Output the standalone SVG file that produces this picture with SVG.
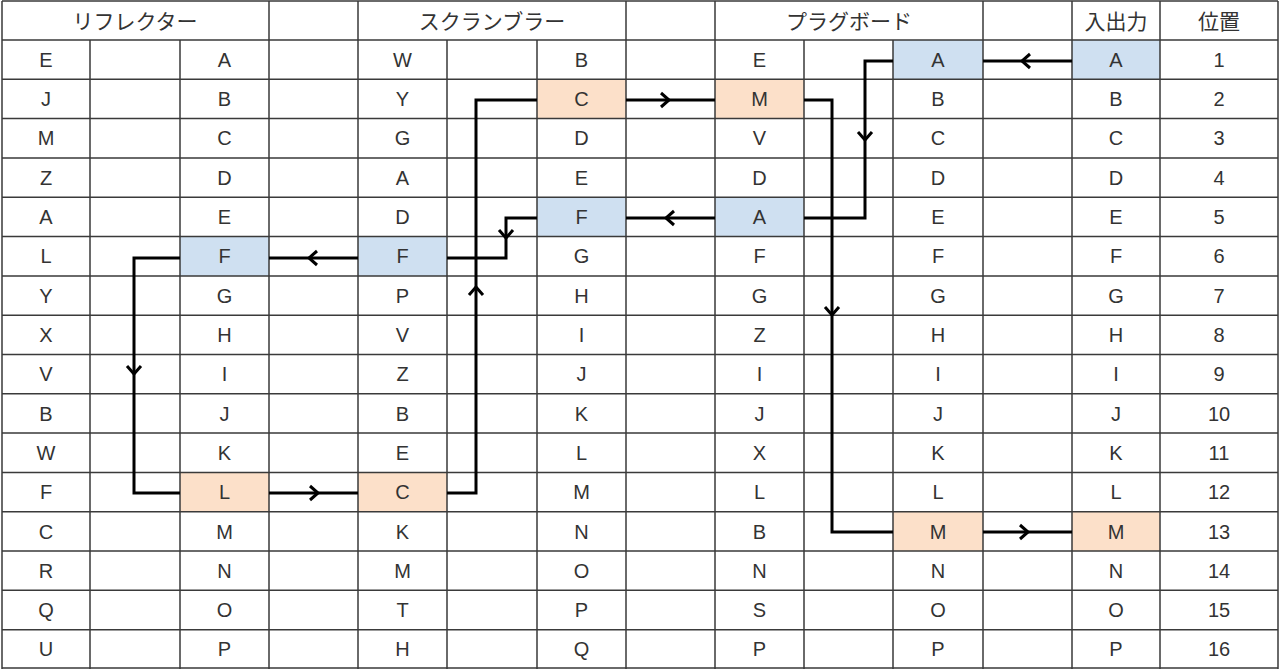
<svg xmlns="http://www.w3.org/2000/svg" width="1280" height="669" viewBox="0 0 1280 669">
<style>
.g{stroke:#3a3a3a;stroke-width:1.5;fill:none}
.t{font-family:"Liberation Sans",Arial,sans-serif;font-size:20px;fill:#333;text-anchor:middle;dominant-baseline:central}
.h{font-family:"Noto Sans CJK JP","Noto Sans",sans-serif;font-size:21px;fill:#333;text-anchor:middle;dominant-baseline:central}
.w{stroke:#000;stroke-width:3;fill:none;stroke-linejoin:miter}
.b{fill:#cfe0f1}.o{fill:#fce0c9}
</style>
<rect width="1280" height="669" fill="#fff"/>
<g id="fills">
<rect class="b" x="1072" y="40" width="88" height="39.3"/>
<rect class="b" x="893" y="40" width="90" height="39.3"/>
<rect class="b" x="715" y="197.2" width="89" height="39.4"/>
<rect class="b" x="537" y="197.2" width="89" height="39.4"/>
<rect class="b" x="358" y="236.6" width="89" height="39.3"/>
<rect class="b" x="180" y="236.6" width="89" height="39.3"/>
<rect class="o" x="537" y="79.3" width="89" height="39.3"/>
<rect class="o" x="715" y="79.3" width="89" height="39.3"/>
<rect class="o" x="358" y="472.4" width="89" height="39.3"/>
<rect class="o" x="180" y="472.4" width="89" height="39.3"/>
<rect class="o" x="893" y="511.7" width="90" height="39.3"/>
<rect class="o" x="1072" y="511.7" width="88" height="39.3"/>
</g>
<g id="grid" class="g">
<path d="M2 1V669M269 1V669M358 1V669M626 1V669M715 1V669M983 1V669M1072 1V669M1160 1V669M1278 1V669"/>
<path d="M90 40V669M180 40V669M447 40V669M537 40V669M804 40V669M893 40V669"/>
<path d="M2 1H1278M2 40H1278M2 79.3H1278M2 118.6H1278M2 157.9H1278M2 197.2H1278M2 236.6H1278M2 275.9H1278M2 315.2H1278M2 354.5H1278M2 393.8H1278M2 433.1H1278M2 472.4H1278M2 511.7H1278M2 551H1278M2 590.3H1278M2 629.7H1278M2 668H1278"/>
</g>
<g id="headers">
<text class="h" x="135" y="20">リフレクター</text>
<text class="h" x="492" y="20">スクランブラー</text>
<text class="h" x="849" y="20">プラグボード</text>
<text class="h" x="1116" y="20">入出力</text>
<text class="h" x="1219" y="20">位置</text>
</g>
<g id="cells" class="t">
<text class="t"><tspan x="46" y="59.7">E</tspan><tspan x="46" y="99">J</tspan><tspan x="46" y="138.3">M</tspan><tspan x="46" y="177.6">Z</tspan><tspan x="46" y="216.9">A</tspan><tspan x="46" y="256.3">L</tspan><tspan x="46" y="295.6">Y</tspan><tspan x="46" y="334.9">X</tspan><tspan x="46" y="374.2">V</tspan><tspan x="46" y="413.5">B</tspan><tspan x="46" y="452.8">W</tspan><tspan x="46" y="492.1">F</tspan><tspan x="46" y="531.5">C</tspan><tspan x="46" y="570.8">R</tspan><tspan x="46" y="610.1">Q</tspan><tspan x="46" y="649.4">U</tspan></text>
<text class="t"><tspan x="224.5" y="59.7">A</tspan><tspan x="224.5" y="99">B</tspan><tspan x="224.5" y="138.3">C</tspan><tspan x="224.5" y="177.6">D</tspan><tspan x="224.5" y="216.9">E</tspan><tspan x="224.5" y="256.3">F</tspan><tspan x="224.5" y="295.6">G</tspan><tspan x="224.5" y="334.9">H</tspan><tspan x="224.5" y="374.2">I</tspan><tspan x="224.5" y="413.5">J</tspan><tspan x="224.5" y="452.8">K</tspan><tspan x="224.5" y="492.1">L</tspan><tspan x="224.5" y="531.5">M</tspan><tspan x="224.5" y="570.8">N</tspan><tspan x="224.5" y="610.1">O</tspan><tspan x="224.5" y="649.4">P</tspan></text>
<text class="t"><tspan x="402.5" y="59.7">W</tspan><tspan x="402.5" y="99">Y</tspan><tspan x="402.5" y="138.3">G</tspan><tspan x="402.5" y="177.6">A</tspan><tspan x="402.5" y="216.9">D</tspan><tspan x="402.5" y="256.3">F</tspan><tspan x="402.5" y="295.6">P</tspan><tspan x="402.5" y="334.9">V</tspan><tspan x="402.5" y="374.2">Z</tspan><tspan x="402.5" y="413.5">B</tspan><tspan x="402.5" y="452.8">E</tspan><tspan x="402.5" y="492.1">C</tspan><tspan x="402.5" y="531.5">K</tspan><tspan x="402.5" y="570.8">M</tspan><tspan x="402.5" y="610.1">T</tspan><tspan x="402.5" y="649.4">H</tspan></text>
<text class="t"><tspan x="581.5" y="59.7">B</tspan><tspan x="581.5" y="99">C</tspan><tspan x="581.5" y="138.3">D</tspan><tspan x="581.5" y="177.6">E</tspan><tspan x="581.5" y="216.9">F</tspan><tspan x="581.5" y="256.3">G</tspan><tspan x="581.5" y="295.6">H</tspan><tspan x="581.5" y="334.9">I</tspan><tspan x="581.5" y="374.2">J</tspan><tspan x="581.5" y="413.5">K</tspan><tspan x="581.5" y="452.8">L</tspan><tspan x="581.5" y="492.1">M</tspan><tspan x="581.5" y="531.5">N</tspan><tspan x="581.5" y="570.8">O</tspan><tspan x="581.5" y="610.1">P</tspan><tspan x="581.5" y="649.4">Q</tspan></text>
<text class="t"><tspan x="759.5" y="59.7">E</tspan><tspan x="759.5" y="99">M</tspan><tspan x="759.5" y="138.3">V</tspan><tspan x="759.5" y="177.6">D</tspan><tspan x="759.5" y="216.9">A</tspan><tspan x="759.5" y="256.3">F</tspan><tspan x="759.5" y="295.6">G</tspan><tspan x="759.5" y="334.9">Z</tspan><tspan x="759.5" y="374.2">I</tspan><tspan x="759.5" y="413.5">J</tspan><tspan x="759.5" y="452.8">X</tspan><tspan x="759.5" y="492.1">L</tspan><tspan x="759.5" y="531.5">B</tspan><tspan x="759.5" y="570.8">N</tspan><tspan x="759.5" y="610.1">S</tspan><tspan x="759.5" y="649.4">P</tspan></text>
<text class="t"><tspan x="938" y="59.7">A</tspan><tspan x="938" y="99">B</tspan><tspan x="938" y="138.3">C</tspan><tspan x="938" y="177.6">D</tspan><tspan x="938" y="216.9">E</tspan><tspan x="938" y="256.3">F</tspan><tspan x="938" y="295.6">G</tspan><tspan x="938" y="334.9">H</tspan><tspan x="938" y="374.2">I</tspan><tspan x="938" y="413.5">J</tspan><tspan x="938" y="452.8">K</tspan><tspan x="938" y="492.1">L</tspan><tspan x="938" y="531.5">M</tspan><tspan x="938" y="570.8">N</tspan><tspan x="938" y="610.1">O</tspan><tspan x="938" y="649.4">P</tspan></text>
<text class="t"><tspan x="1116" y="59.7">A</tspan><tspan x="1116" y="99">B</tspan><tspan x="1116" y="138.3">C</tspan><tspan x="1116" y="177.6">D</tspan><tspan x="1116" y="216.9">E</tspan><tspan x="1116" y="256.3">F</tspan><tspan x="1116" y="295.6">G</tspan><tspan x="1116" y="334.9">H</tspan><tspan x="1116" y="374.2">I</tspan><tspan x="1116" y="413.5">J</tspan><tspan x="1116" y="452.8">K</tspan><tspan x="1116" y="492.1">L</tspan><tspan x="1116" y="531.5">M</tspan><tspan x="1116" y="570.8">N</tspan><tspan x="1116" y="610.1">O</tspan><tspan x="1116" y="649.4">P</tspan></text>
<text class="t"><tspan x="1219" y="59.7">1</tspan><tspan x="1219" y="99">2</tspan><tspan x="1219" y="138.3">3</tspan><tspan x="1219" y="177.6">4</tspan><tspan x="1219" y="216.9">5</tspan><tspan x="1219" y="256.3">6</tspan><tspan x="1219" y="295.6">7</tspan><tspan x="1219" y="334.9">8</tspan><tspan x="1219" y="374.2">9</tspan><tspan x="1219" y="413.5">10</tspan><tspan x="1219" y="452.8">11</tspan><tspan x="1219" y="492.1">12</tspan><tspan x="1219" y="531.5">13</tspan><tspan x="1219" y="570.8">14</tspan><tspan x="1219" y="610.1">15</tspan><tspan x="1219" y="649.4">16</tspan></text>
</g>
<g id="connectors" class="w">
<path d="M1072 61H983"/><path d="M1030 54L1022 61L1030 68"/>
<path d="M893 61H865V218H804"/><path d="M858 132L865 140L872 132"/>
<path d="M715 218H626"/><path d="M674 211L666 218L674 225"/>
<path d="M537 218H506V258H447"/><path d="M499 230L506 238L513 230"/>
<path d="M358 258H269"/><path d="M317 251L309 258L317 265"/>
<path d="M180 258H134V493H180"/><path d="M127 366L134 374L141 366"/>
<path d="M269 493H358"/><path d="M310 486L318 493L310 500"/>
<path d="M447 493H476V100H537"/><path d="M469 295L476 287L483 295"/>
<path d="M626 100H715"/><path d="M661 93L669 100L661 107"/>
<path d="M804 100H832V532H893"/><path d="M825 307L832 315L839 307"/>
<path d="M983 532H1072"/><path d="M1020 525L1028 532L1020 539"/>
</g>
</svg>
